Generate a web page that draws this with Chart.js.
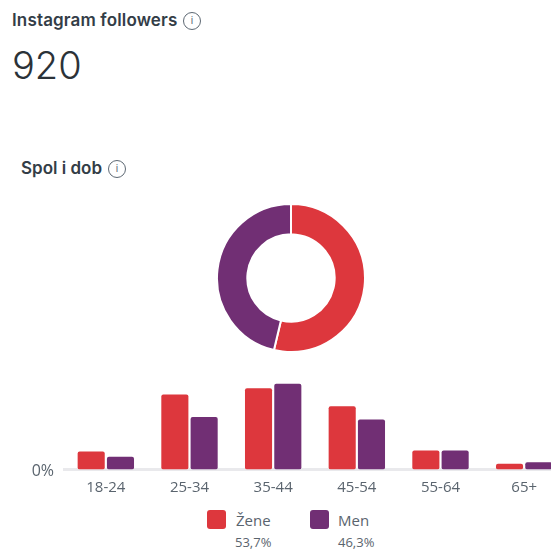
<!DOCTYPE html>
<html><head><meta charset="utf-8">
<script src="https://cdn.jsdelivr.net/npm/chart.js@4"></script>
<style>
html,body{margin:0;padding:0;width:551px;height:551px;overflow:hidden;background:#fff;font-family:Inter,Roboto,sans-serif;color:#333d47}
.t{position:absolute;white-space:nowrap;line-height:1}
.i{position:absolute;width:16px;height:16px;border:1.2px solid #5d6873;border-radius:50%;color:#5d6873;font:10px/16px Roboto,sans-serif;text-align:center}
.s{position:absolute;width:19px;height:19px;border-radius:3px}
canvas{position:absolute}
</style></head><body>
<div class="t" style="left:12px;top:12px;font-size:17px;font-weight:600;letter-spacing:.15px" id="title1"></div>
<div class="i" style="left:183px;top:12px">i</div>
<div class="t" style="left:12px;top:46px;font-size:38px;font-weight:300;color:#2b3238" id="total"></div>
<div class="t" style="left:21px;top:160px;font-size:17px;font-weight:600" id="title2"></div>
<div class="i" style="left:108px;top:160px">i</div>
<canvas id="donut" style="left:215px;top:202px"></canvas>
<canvas id="bars" style="left:0;top:360px"></canvas>
<div id="legend"></div>
<script>
const mainTitle = "Instagram followers";
const totalFollowers = "920";
const subTitle = "Spol i dob";
const ageGroups = ["18-24","25-34","35-44","45-54","55-64","65+"];
const seriesNames = ["Žene","Men"];
const seriesShares = [53.7,46.3];
const seriesShareLabels = ["53,7%","46,3%"];
const zene = [3.7,15.3,16.6,12.9,3.9,1.2];
const men = [2.6,10.7,17.5,10.2,3.9,1.5];
const seriesColors = ["#DD373D","#712F74"];
const zeroTick = "0%";

document.getElementById('title1').textContent = mainTitle;
document.getElementById('total').textContent = totalFollowers;
document.getElementById('title2').textContent = subTitle;

const legendX = [207,310], legendTextX = [236,338], shareX = [235,338];
const lg = document.getElementById('legend');
seriesNames.forEach((n,k)=>{
  lg.insertAdjacentHTML('beforeend',
   `<div class="s" style="left:${legendX[k]}px;top:510px;background:${seriesColors[k]}"></div>`+
   `<div class="t" style="left:${legendTextX[k]}px;top:510px;font:15px 'Open Sans',sans-serif;color:#5a646e">${n}</div>`+
   `<div class="t" style="left:${shareX[k]}px;top:533px;font:13px 'Open Sans',sans-serif;color:#5a646e">${seriesShareLabels[k]}</div>`);
});

const common = {responsive:false,animation:false,devicePixelRatio:1};

const dc = document.getElementById('donut'); dc.width=152; dc.height=152;
new Chart(dc,{type:'doughnut',
  data:{labels:seriesNames,datasets:[{data:seriesShares,backgroundColor:seriesColors,borderColor:'#fff',borderWidth:2}]},
  options:{...common,cutout:'59%',layout:{padding:1},plugins:{legend:{display:false},tooltip:{enabled:false}}}});

const bc = document.getElementById('bars'); bc.width=620; bc.height=140;
new Chart(bc,{type:'bar',
  data:{labels:ageGroups,datasets:[
    {label:seriesNames[0],data:zene,backgroundColor:seriesColors[0],borderRadius:2,borderSkipped:false},
    {label:seriesNames[1],data:men,backgroundColor:seriesColors[1],borderRadius:2,borderSkipped:false}]},
  options:{...common,
    layout:{padding:{top:2.7,right:54,left:0,bottom:0}},
    categoryPercentage:0.7,barPercentage:0.925,
    plugins:{legend:{display:false},tooltip:{enabled:false}},
    scales:{
      x:{grid:{display:false},border:{color:'#e9e9ec',width:3,z:-1},
         ticks:{color:'#5a646e',font:{family:"'Open Sans',sans-serif",size:15},padding:1,maxRotation:0,autoSkip:false},
         afterFit(s){s.height=30.5}},
      y:{min:0,max:20,grid:{display:false},border:{display:false},
         ticks:{color:'#5a646e',font:{family:"'Open Sans',sans-serif",size:16},padding:2,labelOffset:2,stepSize:20,
                callback:v=>v===0?zeroTick:''},
         afterFit(s){s.width=64}}
    }}});
</script>
</body></html>
